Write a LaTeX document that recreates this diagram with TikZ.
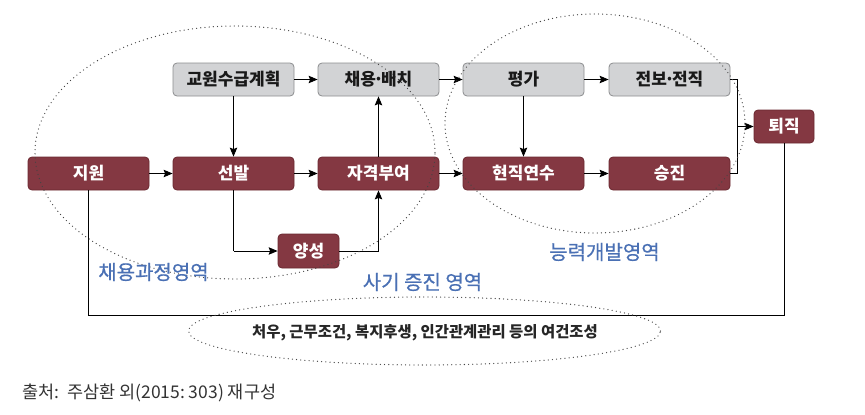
\documentclass[tikz,border=0pt]{standalone}
\usepackage{fontspec}
\setmainfont{Noto Sans CJK KR}
\newfontfamily\medfont[FakeBold=0.6]{Noto Sans CJK KR}
\usetikzlibrary{arrows.meta,shapes.geometric}
\definecolor{maroon}{HTML}{843842}
\definecolor{maroonline}{HTML}{6A2830}
\definecolor{boxgray}{HTML}{D2D3D5}
\definecolor{grayline}{HTML}{8C8D8F}
\definecolor{areablue}{HTML}{4A70B4}
\definecolor{dotgray}{HTML}{444444}
\newcommand{\mdot}{\makebox[0.3em][c]{·}}
\tikzset{
  graybox/.style={draw=grayline, fill=boxgray, rounded corners=4pt, line width=0.8pt,
    minimum width=121pt, minimum height=33pt, inner sep=0pt, text=black!90,
    font=\fontsize{17}{20}\selectfont\bfseries},
  redbox/.style={draw=maroonline, fill=maroon, rounded corners=4pt, line width=0.8pt,
    minimum width=121pt, minimum height=33pt, inner sep=0pt, text=white,
    font=\fontsize{17}{20}\selectfont\bfseries},
  arr/.style={draw=black, line width=0.9pt, -{Stealth[length=9pt,width=7.5pt,inset=1.5pt]}},
  conn/.style={draw=black, line width=0.9pt},
  dotline/.style={draw=dotgray, line width=1.3pt, line cap=round, dash pattern=on 0pt off 4.2pt},
  arealabel/.style={text=areablue, font=\fontsize{20}{23}\medfont, inner sep=0pt},
}
\begin{document}
\begin{tikzpicture}[x=1pt,y=-1pt]
\useasboundingbox (0,0) rectangle (865,415);
% boxes
\node[graybox] (gw) at (233.5,79.5) {교원수급계획};
\node[graybox] (cb) at (378.5,79.5) {채용\mdot 배치};
\node[graybox] (pg) at (523.5,79.5) {평가};
\node[graybox] (jb) at (669.5,79.5) {전보\mdot 전직};
\node[redbox] (jw) at (88.5,173.5) {지원};
\node[redbox] (sb) at (233.5,173.5) {선발};
\node[redbox] (jg) at (378.5,173.5) {자격부여};
\node[redbox] (hy) at (523.5,173.5) {현직연수};
\node[redbox] (sj) at (669.5,173.5) {승진};
\node[redbox, minimum width=60pt] (tj) at (784,126.5) {퇴직};
\node[redbox, minimum width=61pt, minimum height=34pt] (ys) at (308.5,251) {양성};
% connectors
\draw[arr] (gw) -- (cb);
\draw[arr] (gw) -- (sb);
\draw[arr] (jw) -- (sb);
\draw[arr] (sb) -- (jg);
\draw[arr] (jg) -- (cb);
\draw[arr] (cb) -- (pg);
\draw[arr] (jg) -- (hy);
\draw[arr] (pg) -- (jb);
\draw[arr] (pg) -- (hy);
\draw[arr] (hy) -- (sj);
\coordinate (mc) at (737,126.5);
\draw[conn] (jb.east) -| (mc);
\draw[conn] (sj.east) -| (mc);
\draw[arr] (mc) -- (tj.west);
\coordinate (ysin) at (233.5,251);
\draw[conn] (sb.south) -- (ysin);
\draw[arr] (ysin) -- (ys.west);
\coordinate (ysout) at (378.5,251);
\draw[conn] (ys.east) -- (ysout);
\draw[arr] (ysout) -- (jg.south);
\coordinate (bl) at (88.5,315);
\draw[conn] (jw.south) -- (bl) -| (tj.south);
% dotted areas
\node[dotline, ellipse, inner sep=0pt, minimum width=400pt, minimum height=253pt] (e1) at (235,152.5) {};
\node[dotline, ellipse, inner sep=0pt, minimum width=300pt, minimum height=219pt] (e2) at (595,123.5) {};
\node[dotline, ellipse, inner sep=0pt, minimum width=472pt, minimum height=68pt] (e3) at (424.5,331) {};
% labels
\node[arealabel] (l1) at (153.5,272) {채용과정영역};
\node[arealabel] (l2) at (422.5,282) {사기 증진 영역};
\node[arealabel] (l3) at (604.5,252) {능력개발영역};
\node[inner sep=0pt, font=\fontsize{15.4}{18}\selectfont\bfseries, text=black!85] (bt) at (425,333) {처우, 근무조건, 복지후생, 인간관계관리 등의 여건조성};
\node[inner sep=0pt, anchor=west, font=\fontsize{17.5}{20}\selectfont, text=black!80] (src) at (22,393) {출처:\ \ 주삼환 외(2015:\ 303)\ 재구성};
\end{tikzpicture}
\end{document}
